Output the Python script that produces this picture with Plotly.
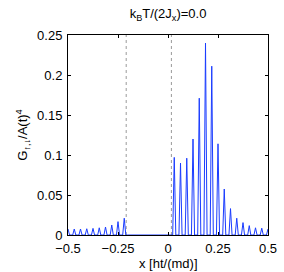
import numpy as np
import plotly.graph_objects as go

# momentum grid (units of ht/(md)); spikes sit every 1/32, curve is zero elsewhere
x_vals = list(np.round(np.arange(-0.5, 0.5 + 1e-9, 1 / 128), 7))
left_peaks = [0.0075, 0.0075, 0.0075, 0.0078, 0.0083, 0.009, 0.010, 0.0125, 0.0167, 0.021]
gap_peaks = [0, 0, 0, 0, 0, 0, 0]
right_peaks = [0.097, 0.090, 0.096, 0.120, 0.171, 0.240, 0.211, 0.114,
               0.0575, 0.033, 0.021, 0.0155, 0.0117, 0.009, 0.0085, 0.0075]
peaks = left_peaks + gap_peaks + right_peaks  # 33 peaks at x = -0.5 + k/32

y_vals = []
for i, p in enumerate(peaks):
    y_vals.append(p)
    if i < len(peaks) - 1:
        y_vals.extend([0.0, 0.0, 0.0])

gap_edges = [-0.209, 0.017]
x_ticks = [-0.5, -0.25, 0, 0.25, 0.5]
x_tick_text = ["\u22120.5", "\u22120.25", "0", "0.25", "0.5"]
y_ticks = [0, 0.05, 0.1, 0.15, 0.2, 0.25]
y_tick_text = ["0", "0.05", "0.1", "0.15", "0.2", "0.25"]

fig = go.Figure()
for xe in gap_edges:
    fig.add_trace(go.Scatter(x=[xe, xe], y=[0, 0.25], mode="lines",
                             line=dict(color="#9a9a9a", width=1, dash="dot"),
                             showlegend=False, hoverinfo="skip"))
fig.add_trace(go.Scatter(x=x_vals, y=y_vals, mode="lines",
                         line=dict(color="#1a3cff", width=1),
                         showlegend=False))

font = dict(family="Liberation Sans, Arial, sans-serif", size=13, color="black")
axis_common = dict(showgrid=False, zeroline=False, showline=True, linecolor="black",
                   linewidth=1, mirror="ticks", ticks="inside", ticklen=3,
                   tickcolor="black", tickfont=font, automargin=False)
fig.update_layout(
    width=284, height=272,
    margin=dict(l=68, r=16, t=35, b=37),
    paper_bgcolor="white", plot_bgcolor="white",
    font=font,
    title=dict(text="k<sub>B</sub>T/(2J<sub>x</sub>)=0.0", x=168 / 284, xanchor="center",
               y=0.95, yanchor="middle", font=font),
    xaxis=dict(range=[-0.5, 0.5], tickvals=x_ticks, ticktext=x_tick_text,
               ticklabelstandoff=1, **axis_common),
    yaxis=dict(range=[0, 0.25], tickvals=y_ticks, ticktext=y_tick_text,
               ticklabelstandoff=2,
               title=dict(text="G<sub>\u2191,\u2193</sub>/A(t)<sup>4</sup>", font=font, standoff=6),
               **axis_common),
    annotations=[dict(text="x [ht/(md)]", xref="paper", yref="paper", x=0.5, y=-0.142,
                      xanchor="center", yanchor="middle", showarrow=False, font=font)],
)
fig.write_html("out.html", config={"displayModeBar": False},
               post_script="document.body.style.margin='0';")
